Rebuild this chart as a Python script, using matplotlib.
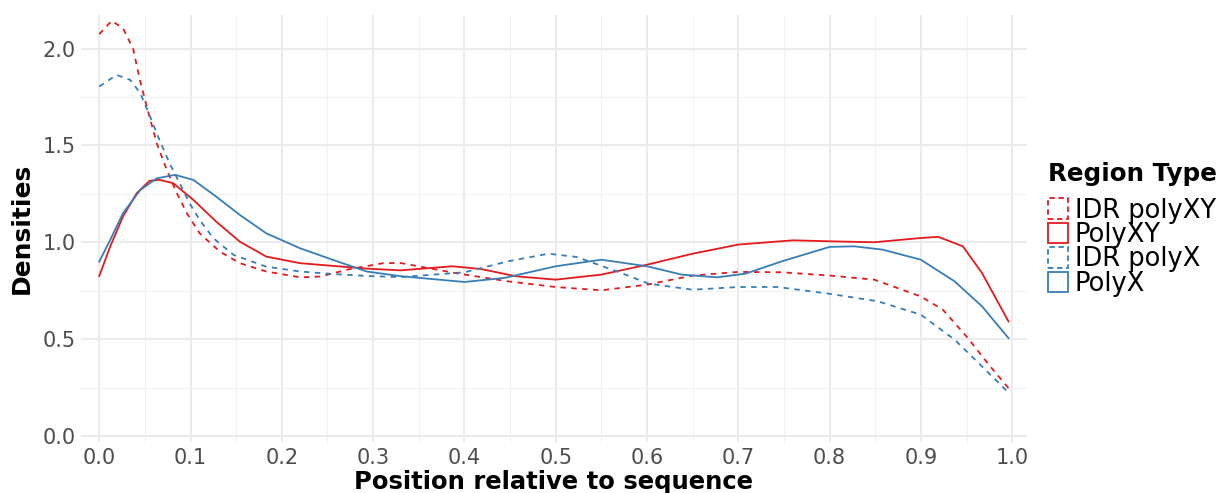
import numpy as np
import matplotlib
matplotlib.use('Agg')
import matplotlib.pyplot as plt
from matplotlib.patches import Rectangle
from matplotlib.ticker import MultipleLocator

# values (position, density)
idr_xy_x = [0.0, 0.0135, 0.026, 0.037, 0.0445, 0.054, 0.063, 0.074, 0.085, 0.096,
            0.110, 0.132, 0.154, 0.183, 0.22, 0.242, 0.274, 0.311, 0.33, 0.39,
            0.448, 0.5, 0.55, 0.6, 0.65, 0.7, 0.748, 0.8, 0.849, 0.9, 0.924,
            0.95, 0.976, 0.996]
idr_xy_y = [2.074, 2.143, 2.105, 2.0, 1.838, 1.666, 1.511, 1.373, 1.253, 1.15,
            1.046, 0.952, 0.892, 0.849, 0.819, 0.823, 0.861, 0.892, 0.893, 0.841,
            0.798, 0.769, 0.752, 0.781, 0.828, 0.847, 0.845, 0.828, 0.807, 0.72, 0.652,
            0.514, 0.359, 0.247]

polyxy_x = [0.0, 0.012, 0.026, 0.041, 0.055, 0.066, 0.081, 0.103, 0.128, 0.154,
            0.183, 0.22, 0.256, 0.293, 0.33, 0.387, 0.418, 0.457, 0.5, 0.55,
            0.6, 0.65, 0.7, 0.76, 0.8, 0.849, 0.9, 0.919, 0.946, 0.967, 0.996]
polyxy_y = [0.826, 0.978, 1.133, 1.253, 1.317, 1.322, 1.305, 1.219, 1.107, 1.003,
            0.926, 0.892, 0.878, 0.864, 0.855, 0.876, 0.862, 0.824, 0.807, 0.833,
            0.884, 0.941, 0.988, 1.010, 1.005, 1.0, 1.022, 1.028, 0.979, 0.841, 0.591]

idr_x_x = [0.0, 0.019, 0.034, 0.045, 0.055, 0.066, 0.077, 0.088, 0.099, 0.110,
           0.125, 0.147, 0.183, 0.22, 0.256, 0.293, 0.33, 0.4, 0.448, 0.492,
           0.523, 0.572, 0.602, 0.65, 0.7, 0.743, 0.8, 0.853, 0.9, 0.937,
           0.967, 0.996]
idr_x_y = [1.804, 1.864, 1.838, 1.769, 1.657, 1.528, 1.408, 1.305, 1.201, 1.115,
           1.021, 0.935, 0.874, 0.849, 0.836, 0.826, 0.820, 0.845, 0.902, 0.941,
           0.924, 0.841, 0.786, 0.755, 0.769, 0.769, 0.734, 0.695, 0.626, 0.497,
           0.359, 0.224]

polyx_x = [0.0, 0.012, 0.026, 0.045, 0.063, 0.083, 0.103, 0.128, 0.154, 0.183,
           0.22, 0.256, 0.293, 0.33, 0.4, 0.444, 0.5, 0.55, 0.6, 0.638,
           0.677, 0.708, 0.748, 0.8, 0.827, 0.858, 0.9, 0.937, 0.967, 0.996]
polyx_y = [0.900, 1.012, 1.150, 1.270, 1.330, 1.348, 1.322, 1.236, 1.141, 1.046,
           0.969, 0.909, 0.849, 0.825, 0.795, 0.816, 0.876, 0.910, 0.876, 0.833,
           0.819, 0.838, 0.902, 0.976, 0.979, 0.962, 0.910, 0.798, 0.669, 0.505]

labels = ['IDR polyXY', 'PolyXY', 'IDR polyX', 'PolyX']
red = '#E41A1C'
blue = '#377EB8'
dash = (0, (3, 3))

fig = plt.figure(figsize=(12.18, 4.93), dpi=100)
ax = fig.add_axes([0.0665, 0.1035, 0.7765, 0.866])

ax.plot(idr_xy_x, idr_xy_y, color=red, lw=1.3, ls=dash)
ax.plot(polyxy_x, polyxy_y, color=red, lw=1.3)
ax.plot(idr_x_x, idr_x_y, color=blue, lw=1.3, ls=dash)
ax.plot(polyx_x, polyx_y, color=blue, lw=1.3)

ax.set_xlim(-0.02, 1.016)
ax.set_ylim(-0.031, 2.173)
ax.xaxis.set_major_locator(MultipleLocator(0.1))
ax.xaxis.set_minor_locator(MultipleLocator(0.05))
ax.yaxis.set_major_locator(MultipleLocator(0.5))
ax.yaxis.set_minor_locator(MultipleLocator(0.25))
ax.grid(which='major', color='#EBEBEB', lw=1.4)
ax.grid(which='minor', color='#F2F2F2', lw=0.8)
ax.set_axisbelow(True)
for s in ax.spines.values():
    s.set_visible(False)
ax.tick_params(which='both', length=0, labelsize=15, labelcolor='#4D4D4D', pad=4)
ax.set_xticklabels(['%.1f' % v for v in ax.get_xticks()])

ax.set_xlabel('Position relative to sequence', fontsize=17.5, fontweight='bold', labelpad=2)
ax.set_ylabel('Densities', fontsize=18, fontweight='bold', labelpad=6)

handles = [Rectangle((0, 0), 1, 1, fill=False, edgecolor=red, ls=(0, (3, 2)), lw=1.3),
           Rectangle((0, 0), 1, 1, fill=False, edgecolor=red, lw=1.3),
           Rectangle((0, 0), 1, 1, fill=False, edgecolor=blue, ls=(0, (3, 2)), lw=1.3),
           Rectangle((0, 0), 1, 1, fill=False, edgecolor=blue, lw=1.3)]
leg = fig.legend(handles, labels, loc='upper left', bbox_to_anchor=(0.8604, 0.672),
                 frameon=False, fontsize=18.5, title='Region Type',
                 title_fontproperties={'weight': 'bold', 'size': 17.7},
                 handlelength=0.78, handleheight=0.85, labelspacing=-0.06,
                 handletextpad=0.27, borderaxespad=0, borderpad=0)
leg._legend_box.align = 'left'
leg._legend_box.sep = 8.5  # gap between the title and the keys

fig.savefig('out.png', dpi=100)
